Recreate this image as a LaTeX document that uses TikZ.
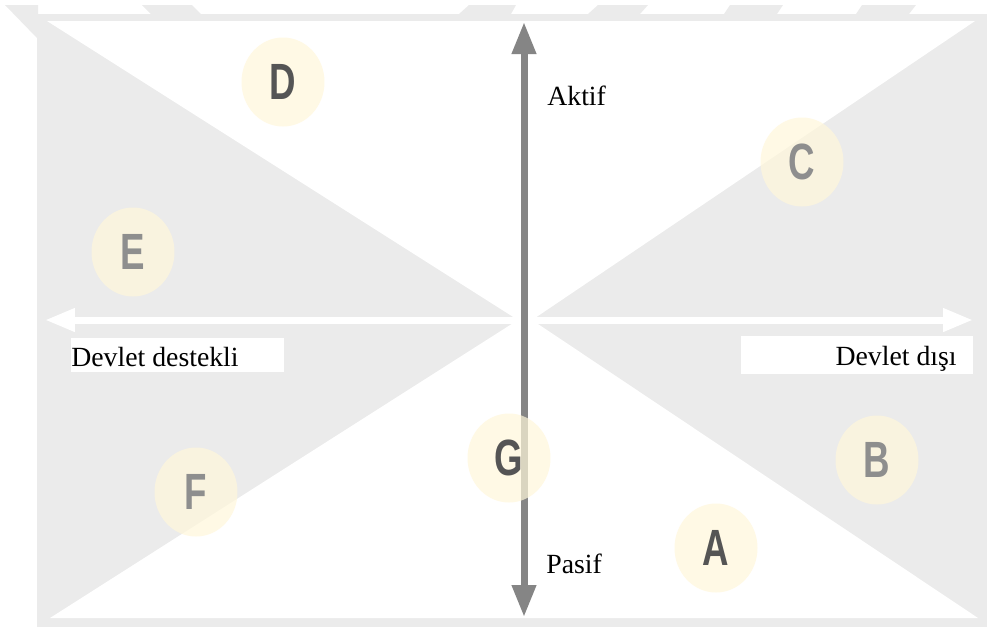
\documentclass[tikz,border=0pt]{standalone}
\usepackage{fontspec}
\setmainfont{Liberation Serif}
\newfontfamily\letterfont[FakeStretch=0.72]{Liberation Sans}
\usetikzlibrary{arrows.meta,shapes.geometric}
\definecolor{bggray}{HTML}{EBEBEB}
\definecolor{axisgray}{HTML}{858585}
\definecolor{spotyellow}{HTML}{FFF7DA}
\definecolor{letterdark}{HTML}{555555}
\definecolor{letterlight}{HTML}{8E8E8E}

\begin{document}
\begin{tikzpicture}[x=0.02cm,y=-0.02cm,
    spot/.style={ellipse,fill=spotyellow,fill opacity=0.7,text opacity=1,
      minimum width=1.66cm,minimum height=1.78cm,inner sep=0pt,
      font=\letterfont\bfseries\fontsize{29}{29}\selectfont},
    darkspot/.style={spot,text=letterdark},
    lightspot/.style={spot,text=letterlight},
    axislabel/.style={inner sep=0pt,font=\fontsize{15.8}{18}\selectfont}]
		\useasboundingbox (0,0) rectangle (987,627);
		% background and cut-off pieces on top
		\fill[bggray] (37,14) rectangle (987,627);
		\fill[bggray] (5,5) -- (38,5) -- (38,14) -- (37,14) -- (37,38) -- cycle;
		\fill[bggray] (142,5) -- (192,5) -- (201,14) -- (151,14) -- cycle;
		\fill[bggray] (469,5) -- (516,5) -- (511,14) -- (459,14) -- cycle;
		\fill[bggray] (598,5) -- (648,5) -- (640,14) -- (588,14) -- cycle;
		\fill[bggray] (730,5) -- (783,5) -- (777,14) -- (724,14) -- cycle;
		\fill[bggray] (862,5) -- (916,5) -- (909,14) -- (856,14) -- cycle;
		% white sectors
		\fill[white] (47,21) -- (975,21) -- (532,320) -- (518,320) -- cycle;
		\fill[white] (50,618) -- (978,618) -- (532,320) -- (518,320) -- cycle;
		% axes
		\coordinate (left) at (45,320);
		\coordinate (right) at (973,320);
		\coordinate (top) at (524,22);
		\coordinate (bottom) at (524,617);
		\draw[white,line width=0.14cm,{Triangle[length=0.6cm,width=0.44cm]}-{Triangle[length=0.6cm,width=0.44cm]}] (left) -- (right);
		\draw[axisgray,line width=0.14cm,{Triangle[length=0.64cm,width=0.46cm]}-{Triangle[length=0.64cm,width=0.46cm]}] (bottom) -- (top);
		% groups
		\node[darkspot] (D) at (283,82) {D};
		\node[lightspot] (C) at (802,162) {C};
		\node[lightspot] (E) at (133,252) {E};
		\node[darkspot] (G) at (509,458) {G};
		\node[lightspot] (B) at (877,460) {B};
		\node[lightspot] (F) at (196,492) {F};
		\node[darkspot] (A) at (716,548) {A};
		% labels
		\fill[white] (71,338) rectangle (284,372);
		\fill[white] (741,336) rectangle (973,374);
		\node[axislabel,anchor=base west] (aktif) at (547,105) {Aktif};
		\node[axislabel,anchor=base west] (pasif) at (546,573) {Pasif};
		\node[axislabel,anchor=base west] (destekli) at (71,366) {Devlet destekli};
		\node[axislabel,anchor=base east] (disi) at (957,365) {Devlet dışı};
\end{tikzpicture}
\end{document}
